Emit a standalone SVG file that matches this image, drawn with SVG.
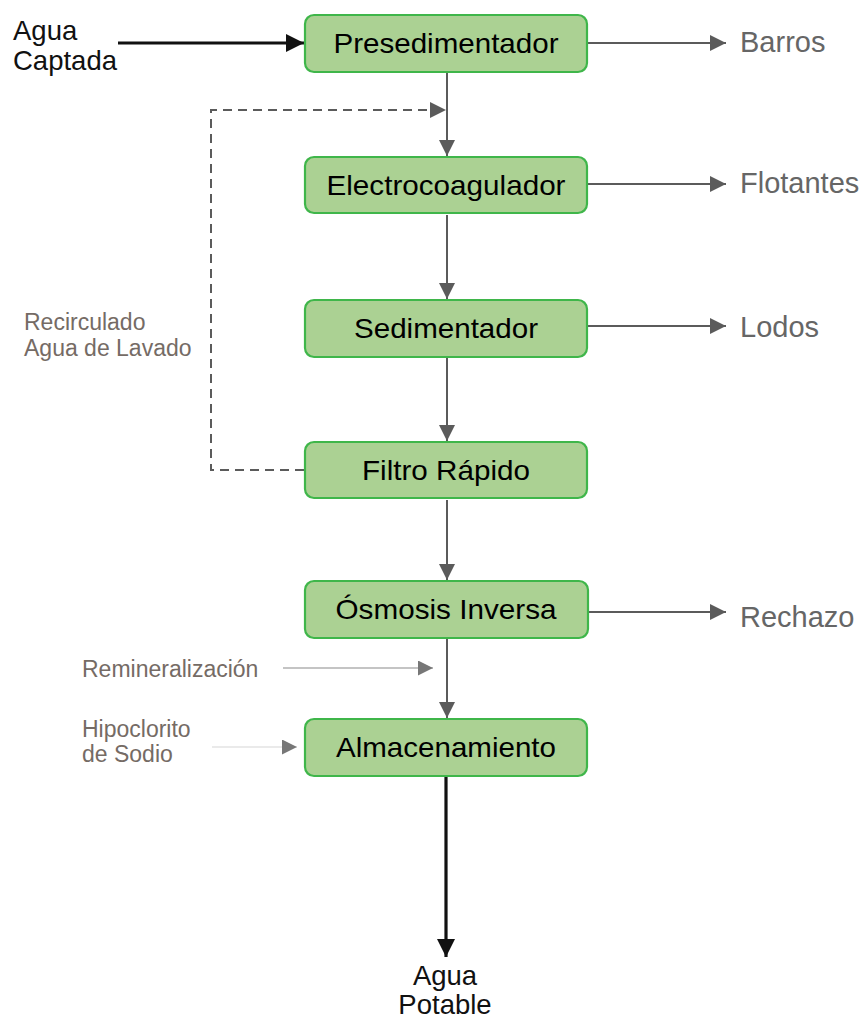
<svg xmlns="http://www.w3.org/2000/svg" width="863" height="1019" viewBox="0 0 863 1019">
  <style>
    .box { fill: #abd193; stroke: #3fb64a; stroke-width: 2.2; }
    .lbl { font-family: "Liberation Sans", Arial, sans-serif; font-size: 28px; fill: #000; text-anchor: middle; }
    .out { font-family: "Liberation Sans", Arial, sans-serif; font-size: 29px; fill: #666; }
    .note { font-family: "Liberation Sans", Arial, sans-serif; font-size: 23px; fill: #756b65; }
    .io { font-family: "Liberation Sans", Arial, sans-serif; font-size: 27.5px; fill: #111; }
    .flow { stroke: #5b5b5b; stroke-width: 2; fill: none; }
    .main { stroke: #111; stroke-width: 3.2; fill: none; }
    .dash { stroke: #5b5b5b; stroke-width: 2; fill: none; stroke-dasharray: 9 6; }
    .thin { stroke: #8a8a8a; stroke-width: 1.2; fill: none; }
    .faint { stroke: #d6d6d6; stroke-width: 1.2; fill: none; }
  </style>
  <defs>
    <marker id="ahBig" viewBox="0 0 10 10" refX="10" refY="5" markerWidth="16" markerHeight="16" markerUnits="userSpaceOnUse" orient="auto">
      <path d="M0,0 L10,5 L0,10 Z" fill="#5b5b5b"/>
    </marker>
    <marker id="ahBlack" viewBox="0 0 10 10" refX="10" refY="5" markerWidth="18" markerHeight="18" markerUnits="userSpaceOnUse" orient="auto">
      <path d="M0,0 L10,5 L0,10 Z" fill="#111"/>
    </marker>
    <marker id="ahGray" viewBox="0 0 10 10" refX="10" refY="5" markerWidth="15" markerHeight="15" markerUnits="userSpaceOnUse" orient="auto">
      <path d="M0,0 L10,5 L0,10 Z" fill="#777"/>
    </marker>
  </defs>

  <!-- connectors -->
  <g id="connectors">
    <!-- inflow -->
    <path class="main" d="M118,43 H304" marker-end="url(#ahBlack)"/>
    <!-- main train -->
    <path class="flow" d="M447,73 V156" marker-end="url(#ahBig)"/>
    <path class="flow" d="M447,215 V299" marker-end="url(#ahBig)"/>
    <path class="flow" d="M447,358 V441" marker-end="url(#ahBig)"/>
    <path class="flow" d="M447,500 V580" marker-end="url(#ahBig)"/>
    <path class="flow" d="M447,639 V718" marker-end="url(#ahBig)"/>
    <!-- by-products -->
    <path class="flow" d="M588,43 H726" marker-end="url(#ahBig)"/>
    <path class="flow" d="M588,184 H726" marker-end="url(#ahBig)"/>
    <path class="flow" d="M588,326 H726" marker-end="url(#ahBig)"/>
    <path class="flow" d="M589,612 H726" marker-end="url(#ahBig)"/>
    <!-- backwash recirculation -->
    <path class="dash" d="M304,470 H211 V110 H446" marker-end="url(#ahBig)"/>
    <!-- dosing -->
    <path class="thin" d="M283,668 H433" marker-end="url(#ahGray)"/>
    <path class="faint" d="M212,747 H297" marker-end="url(#ahGray)"/>
    <!-- product water -->
    <path class="main" d="M446,777 V957" marker-end="url(#ahBlack)"/>
  </g>

  <!-- process units -->
  <g id="presedimentador">
    <rect class="box" x="305" y="15" width="282" height="57" rx="9"/>
    <text class="lbl" x="446" y="53" textLength="225" lengthAdjust="spacingAndGlyphs">Presedimentador</text>
  </g>
  <g id="electrocoagulador">
    <rect class="box" x="305" y="157" width="282" height="56" rx="9"/>
    <text class="lbl" x="446" y="194.5" textLength="239" lengthAdjust="spacingAndGlyphs">Electrocoagulador</text>
  </g>
  <g id="sedimentador">
    <rect class="box" x="305" y="300" width="282" height="57" rx="9"/>
    <text class="lbl" x="446" y="338" textLength="184" lengthAdjust="spacingAndGlyphs">Sedimentador</text>
  </g>
  <g id="filtro">
    <rect class="box" x="305" y="442" width="282" height="56" rx="9"/>
    <text class="lbl" x="446" y="479.5" textLength="168" lengthAdjust="spacingAndGlyphs">Filtro Rápido</text>
  </g>
  <g id="osmosis">
    <rect class="box" x="305" y="581" width="283" height="57" rx="9"/>
    <text class="lbl" x="446" y="619" textLength="221" lengthAdjust="spacingAndGlyphs">Ósmosis Inversa</text>
  </g>
  <g id="almacenamiento">
    <rect class="box" x="305" y="719" width="282" height="57" rx="9"/>
    <text class="lbl" x="446" y="757" textLength="220" lengthAdjust="spacingAndGlyphs">Almacenamiento</text>
  </g>

  <!-- inputs and outputs -->
  <g id="agua-captada">
    <text class="io" x="13" y="40">Agua</text>
    <text class="io" x="13" y="70">Captada</text>
  </g>
  <g id="agua-potable">
    <text class="io" x="445" y="985" text-anchor="middle">Agua</text>
    <text class="io" x="445" y="1014" text-anchor="middle">Potable</text>
  </g>
  <g id="barros"><text class="out" x="740" y="52">Barros</text></g>
  <g id="flotantes"><text class="out" x="740" y="193">Flotantes</text></g>
  <g id="lodos"><text class="out" x="740" y="337">Lodos</text></g>
  <g id="rechazo"><text class="out" x="740" y="627">Rechazo</text></g>

  <!-- annotations -->
  <g id="recirculado">
    <text class="note" x="24" y="330">Recirculado</text>
    <text class="note" x="24" y="356">Agua de Lavado</text>
  </g>
  <g id="remineralizacion">
    <text class="note" x="82" y="677">Remineralización</text>
  </g>
  <g id="hipoclorito">
    <text class="note" x="82" y="737">Hipoclorito</text>
    <text class="note" x="82" y="762">de Sodio</text>
  </g>
</svg>
